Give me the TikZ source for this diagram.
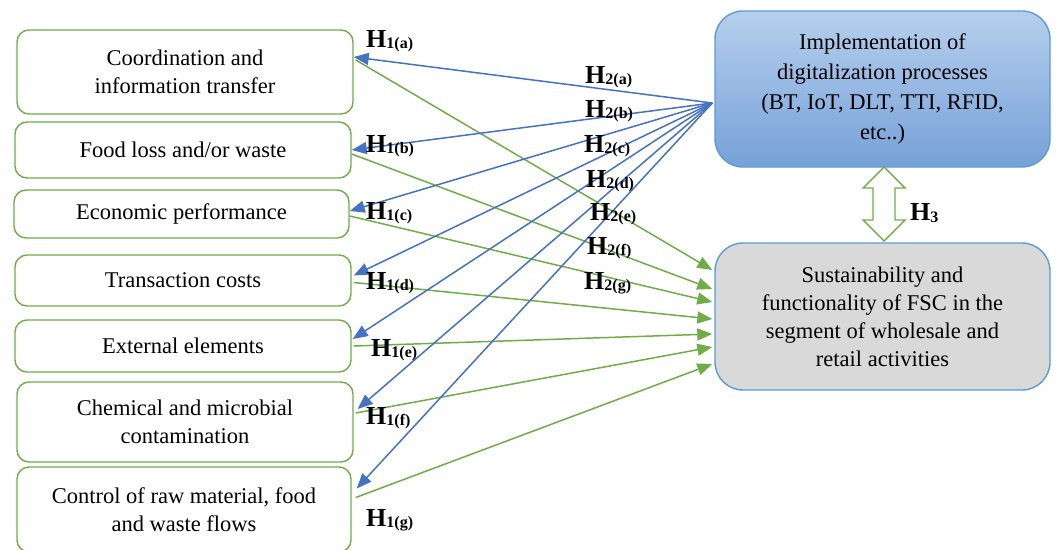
\documentclass[tikz,border=0pt]{standalone}
\usepackage{fontspec}
\setmainfont{Liberation Serif}
\usetikzlibrary{arrows.meta,calc}
\definecolor{gline}{RGB}{112,173,71}
\definecolor{bline}{RGB}{68,114,196}
\definecolor{bborder}{RGB}{91,155,213}
\definecolor{btop}{RGB}{182,207,237}
\definecolor{bbot}{RGB}{118,161,216}
\definecolor{gfill}{RGB}{217,217,217}
\newcommand\Hyp[1]{{\fontsize{26}{26}\selectfont\bfseries H}{\fontsize{16}{16}\selectfont\bfseries\raisebox{-1.5pt}{#1}}}
\begin{document}
\begin{tikzpicture}[x=1pt,y=-1pt,
  lbox/.style={draw=gline, line width=1.4pt, rounded corners=12pt, align=center, inner sep=0pt, minimum width=336pt, font=\fontsize{22.5}{28}\selectfont},
  rbox/.style={line width=1.4pt, rounded corners=28pt, align=center, inner sep=0pt, minimum width=335pt},
  barrow/.style={draw=bline, line width=1.5pt, -{Triangle[length=15pt,width=12pt]}},
  garrow/.style={draw=gline, line width=1.5pt, -{Triangle[length=15pt,width=12pt]}},
  hlab/.style={anchor=west, inner sep=0pt}
]
\useasboundingbox (0,0) rectangle (1056,549);
\clip (0,0) rectangle (1056,549);

% left boxes
\node[lbox, minimum height=84pt] (b1) at (185,72) {Coordination and\\information transfer};
\node[lbox, minimum height=56pt] (b2) at (183,150) {Food loss and/or waste};
\node[lbox, minimum height=48pt, minimum width=335pt] (b3) at (181.5,214) {Economic performance};
\node[lbox, minimum height=51pt] (b4) at (183,280.5) {Transaction costs};
\node[lbox, minimum height=52pt] (b5) at (183,346) {External elements};
\node[lbox, minimum height=80pt] (b6) at (185,422) {Chemical and microbial\\contamination};
\node[lbox, minimum height=85pt, minimum width=334pt] (b7) at (184,509.5) {Control of raw material, food\\and waste flows};

% right boxes
\node[rbox, draw=bborder, top color=btop, bottom color=bbot, minimum height=156pt, font=\fontsize{22.5}{30}\selectfont] (blue) at (882.5,89)
  {Implementation of\\digitalization processes\\(BT, IoT, DLT, TTI, RFID,\\etc..)};
\node[rbox, draw=bborder, fill=gfill, minimum height=147pt, font=\fontsize{22.5}{28}\selectfont] (gray) at (882.5,316.5)
  {Sustainability and\\functionality of FSC in the\\segment of wholesale and\\retail activities};

\coordinate (src) at ($(blue.west)+(-2,14)$);

% green arrows
\draw[garrow] ($(b1.east)+(2,-12)$) -- ($(gray.west)+(-2,-46.5)$);
\draw[garrow] ($(b2.east)+(0,4)$) -- ($(gray.west)+(-2,-27.5)$);
\draw[garrow] ($(b3.east)+(0,2)$) -- ($(gray.west)+(-2,-14.5)$);
\draw[garrow] ($(b4.east)+(2,2)$) -- ($(gray.west)+(-2,2.5)$);
\draw[garrow] ($(b5.east)+(2,0)$) -- ($(gray.west)+(-2,17.5)$);
\draw[garrow] ($(b6.east)+(2,-9)$) -- ($(gray.west)+(-2,30.5)$);
\draw[garrow] ($(b7.east)+(4,-12)$) -- ($(gray.west)+(-2,47.5)$);

% blue arrows
\draw[barrow] (src) -- ($(b1.east)+(0,-15)$);
\draw[barrow] (src) -- ($(b2.east)+(0,0)$);
\draw[barrow] (src) -- ($(b3.east)+(0,-3)$);
\draw[barrow] (src) -- ($(b4.east)+(2,-5)$);
\draw[barrow] (src) -- ($(b5.east)+(1,-7)$);
\draw[barrow] (src) -- ($(b6.east)+(4,-13)$);
\draw[barrow] (src) -- ($(b7.east)+(5,-21)$);

% double arrow H3
\draw[draw=gline, fill=white, line width=1.4pt, line join=miter]
  (884,167) -- (905,188) -- (895,188) -- (895,220) -- (905,220) -- (884,241)
  -- (863,220) -- (873,220) -- (873,188) -- (863,188) -- cycle;

% labels
\node[hlab] (h1a) at (366,41) {\Hyp{1(a)}};
\node[hlab] (h1b) at (366,146) {\Hyp{1(b)}};
\node[hlab] (h1c) at (366,213) {\Hyp{1(c)}};
\node[hlab] (h1d) at (366,283) {\Hyp{1(d)}};
\node[hlab] (h1e) at (371,350) {\Hyp{1(e)}};
\node[hlab] (h1f) at (366,418) {\Hyp{1(f)}};
\node[hlab] (h1g) at (366,520) {\Hyp{1(g)}};
\node[hlab] (h2a) at (585,77) {\Hyp{2(a)}};
\node[hlab] (h2b) at (585,111) {\Hyp{2(b)}};
\node[hlab] (h2c) at (584,146) {\Hyp{2(c)}};
\node[hlab] (h2d) at (586,181) {\Hyp{2(d)}};
\node[hlab] (h2e) at (590,214) {\Hyp{2(e)}};
\node[hlab] (h2f) at (587,248) {\Hyp{2(f)}};
\node[hlab] (h2g) at (584,283) {\Hyp{2(g)}};
\node[hlab] (h3) at (910,213) {\Hyp{3}};
\end{tikzpicture}
\end{document}
